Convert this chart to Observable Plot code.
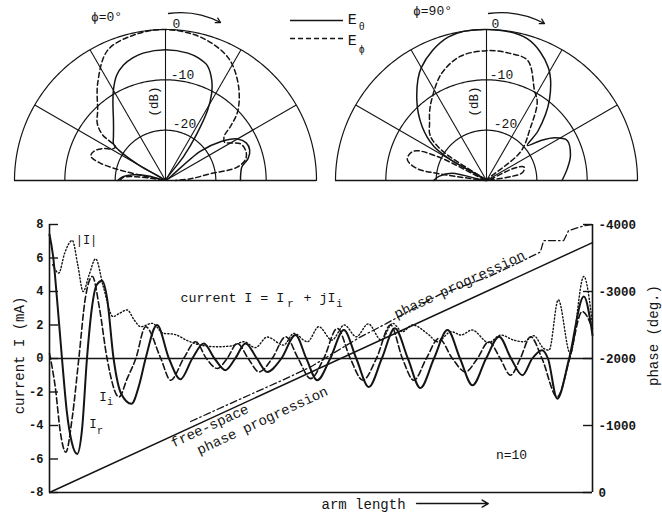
<!DOCTYPE html>
<html><head><meta charset="utf-8">
<script src="https://cdn.jsdelivr.net/npm/d3@7"></script>
<script src="https://cdn.jsdelivr.net/npm/@observablehq/plot@0.6"></script>
<style>
body{margin:0;background:#fff;}
#fig{position:relative;width:662px;height:512px;overflow:hidden;background:#fff;}
#fig > div{position:absolute;}
</style></head><body>
<div id="fig"><div id="p0" style="left:0;top:0"></div><div id="p90" style="left:331px;top:0"></div><div id="main" style="left:0;top:190px"></div></div>
<script>
// ---------- polar patterns: [angle from zenith (deg), level (dB)] ----------
const dbMin = -30;
const ringLevels = [-20, -10, 0];
const spokeAngles = [-60, -30, 0, 30, 60];

const phi0_Etheta = [[-90,-20.5],[-85,-21.5],[-80,-23.5],[-75,-26.5],[-66,-30],[-60,-24],[-57,-19],[-55,-17.4],[-50,-16.5],[-45,-15.4],[-40,-13.9],[-35,-11.8],[-30,-9.3],[-25,-7.0],[-20,-5.6],[-15,-4.8],[-10,-4.3],[0,-4],[10,-4.3],[15,-4.8],[20,-5.7],[25,-8.2],[28,-10.5],[31,-13.8],[34,-19],[37,-24],[42,-30],[50,-21],[55,-16.5],[60,-13.5],[65,-12.3],[70,-12.2],[75,-13],[80,-14.6],[85,-15],[90,-15.1]];
const phi0_Ephi = [[-90,-21],[-86,-21.5],[-82,-25],[-79,-30],[-77.5,-22],[-75,-16.5],[-72,-14.4],[-68,-14.6],[-63,-16],[-59,-17.8],[-56,-18],[-54,-14.5],[-50,-12.3],[-44,-10.6],[-35,-6.5],[-24,-1.7],[-12,-0.4],[0,0],[14,-0.7],[27,-2.6],[37,-6],[46,-10],[50,-13],[53,-15.4],[57,-16],[64,-13.4],[70,-13],[75,-13.5],[79.5,-15.5],[81.5,-21],[86,-25],[90,-28]];
const phi90_Etheta = [[-90,-19.5],[-85,-20.5],[-78,-23],[-67,-30],[-60,-22],[-57,-17.5],[-50,-13.3],[-41,-8.9],[-30,-4.1],[-15,-0.5],[0,0],[16,-0.7],[28.6,-4.4],[38,-9.7],[46,-15.7],[49.3,-19.3],[53.5,-16.7],[58,-14],[63.6,-12.1],[73.4,-12.6],[81.8,-13.8],[90,-15]];
const phi90_Ephi = [[-85,-30],[-82,-21],[-80,-15.8],[-75,-13.7],[-68,-14.4],[-64,-19],[-59,-30],[-56.5,-20],[-53,-16.5],[-50,-15.2],[-45,-14],[-40,-12.4],[-34.5,-10.7],[-23,-7],[-12,-4.8],[0,-4.2],[10,-4.3],[19,-4.8],[28,-9.7],[33,-11.5],[40,-16.5],[50,-21.2],[58,-30],[66,-24],[70,-22.1],[75,-22.3],[79,-23.1],[84,-30]];

// ---------- current distribution along the arm (arm length 0..100, mA) ----------
const Ir = [[0,7.4],[0.7,6.0],[1.4,3.5],[2.3,0],[3.2,-3.2],[4.1,-5.0],[5.1,-5.7],[6.0,-4.2],[6.9,0],[7.8,3.0],[8.7,4.4],[9.7,4.64],[10.6,3.6],[11.8,0],[13.2,-2.1],[15.1,-2.7],[16.5,-1.6],[17.7,0],[19.8,2.0],[22.0,0],[24.1,-1.24],[26.3,0],[28.4,0.9],[30.4,0],[32.4,-0.7],[34.2,0],[36.1,0.9],[38.2,0],[40.1,-0.8],[42.7,0],[45.3,1.4],[47.3,0],[49.3,-1.3],[51.7,0],[54.2,1.7],[56.5,0],[58.8,-1.7],[61.2,0],[63.6,1.8],[66.0,0],[68.3,-1.76],[70.8,0],[73.3,1.7],[75.6,0],[77.9,-1.6],[80.4,0],[82.8,1.3],[85.0,0],[87.1,-1.0],[88.9,0],[90.7,0.5],[91.8,0],[93.5,-2.4],[95.7,0],[98.4,3.7],[100,1.4]];
const Ii = [[0,0.3],[1.1,-1.8],[2.0,-4.4],[3.0,-5.6],[4.2,-3.5],[5.4,0],[6.6,3.6],[7.9,4.9],[9.2,3.0],[10.6,0],[12.8,-2.3],[14.3,-1.2],[15.9,0],[17.7,1.9],[20.5,0],[22.3,-1.3],[24.7,0],[26.9,1.0],[28.9,0],[30.9,-0.6],[32.7,0],[34.6,0.9],[36.6,0],[38.6,-0.8],[41.0,0],[43.5,1.3],[45.8,0],[48.1,-1.2],[50.5,0],[53.0,1.8],[55.4,0],[57.7,-1.3],[60.2,0],[62.8,2.0],[65.0,0],[67.1,-1.3],[69.4,0],[71.7,1.2],[74.2,0],[76.6,-0.8],[78.8,0],[80.9,1.0],[83.0,0],[84.9,-1.0],[86.7,0],[88.6,1.3],[90.7,0],[93.5,-2.3],[95.8,0],[98.1,2.8],[100,1.8]];
const absI = [[0.6,5.6],[1.7,5.1],[2.8,6.3],[4.2,7.05],[5.2,5.6],[6.2,4.0],[7.3,5.0],[8.5,5.95],[9.9,4.3],[11.7,2.5],[12.9,2.7],[14.3,2.9],[15.6,2.3],[16.8,1.9],[18.9,2.1],[21.0,1.5],[22.9,1.45],[25.5,1.05],[27.8,0.8],[30.9,0.7],[33.5,0.75],[35.8,1.0],[37.9,0.65],[40.1,1.28],[43.1,0.8],[45.0,1.5],[47.5,1.0],[49.6,1.9],[52.0,1.1],[54.3,2.0],[56.5,1.3],[58.7,2.07],[61.1,1.1],[63.2,2.1],[65.0,1.6],[66.8,2.0],[69.9,1.4],[71.4,1.0],[74.0,1.6],[75.8,1.4],[77.8,1.7],[80.9,0.95],[83.1,1.4],[85.5,1.1],[87.3,1.0],[89.2,1.36],[91.0,0.6],[92.0,0.5],[93.7,3.5],[95.9,0.3],[98.4,4.9],[100,2.0]];
// phase (deg.)
const phaseMeasured = [[26,-1060],[35,-1390],[43,-1680],[48,-1870],[57,-2310],[62,-2520],[66,-2700],[72,-2960],[80.6,-3210],[86.7,-3440],[90.4,-3590],[91.0,-3760],[94.7,-3760],[95.6,-3910],[98.4,-3980],[100,-4000]];
const phaseFreeSpace = [[0,0],[100,-3730]];

const currentTicks = [8,6,4,2,0,-2,-4,-6,-8];
const phaseTicks = [0,-1000,-2000,-3000,-4000];

// ---------- helpers ----------
const FONT = '"Liberation Mono", "DejaVu Sans Mono", monospace';
const INK = "#141414";
function toXY([t, db]) { const r = Math.max(0, db - dbMin); const a = t * Math.PI / 180; return [r * Math.sin(a), r * Math.cos(a)]; }
const phaseToY = p => -8 + (-p) / 250;

function polarPlot({eTheta, ePhi, marginLeft, marginRight, labels, legend}) {
  const ring = ringLevels.flatMap(db => d3.range(-90, 90.5, 1).map(t => [...toXY([t, db]), db]));
  const marks = [
    Plot.ruleY([0], {stroke: INK, strokeWidth: 1.3}),
    Plot.line(ring, {x: d => d[0], y: d => d[1], z: d => d[2], stroke: INK, strokeWidth: 1.2}),
    Plot.link(spokeAngles, {x1: 0, y1: 0, x2: t => toXY([t, 0])[0], y2: t => toXY([t, 0])[1], stroke: INK, strokeWidth: 1.1}),
    Plot.line(eTheta.map(toXY), {x: d => d[0], y: d => d[1], curve: "catmull-rom", stroke: INK, strokeWidth: 1.5}),
    Plot.line(ePhi.map(toXY), {x: d => d[0], y: d => d[1], curve: "catmull-rom", stroke: INK, strokeWidth: 1.5, strokeDasharray: "5,3"}),
    Plot.text([labels.phi], {x: labels.phiX, y: labels.phiY, fontSize: 13, text: d => d}),
    Plot.text(["0"], {x: labels.zeroX, y: 31.2, fontSize: 13}),
    Plot.text(["-10"], {x: labels.tenX, y: 21.06, fontSize: 13}),
    Plot.text(["-20"], {x: 3.78, y: 11.33, fontSize: 13}),
    Plot.text(["(dB)"], {x: labels.dbX, y: 15.7, rotate: -90, fontSize: 12.5}),
    Plot.arrow([0], {x1: labels.arrow[0], y1: labels.arrow[1], x2: labels.arrow[2], y2: labels.arrow[3], bend: 18, headLength: 6, stroke: INK, strokeWidth: 1.3})
  ];
  if (legend) {
    marks.push(
      Plot.ruleY([31.8], {x1: 24.84, x2: 35.37, stroke: INK, strokeWidth: 1.4}),
      Plot.ruleY([28.2], {x1: 24.84, x2: 35.37, stroke: INK, strokeWidth: 1.4, strokeDasharray: "5,3"}),
      Plot.text(["E", "E"], {x: 36.2, y: [32.0, 27.8], textAnchor: "start", fontSize: 15}),
      Plot.text(["θ", "ϕ"], {x: 38.4, y: [30.5, 25.9], textAnchor: "start", fontSize: 10})
    );
  }
  return Plot.plot({
    width: 331, height: 190, marginLeft, marginRight, marginTop: 29, marginBottom: 10,
    x: {domain: [-30, 30], axis: null}, y: {domain: [0, 30], axis: null},
    style: {overflow: "visible", fontFamily: FONT, color: INK, background: "transparent"},
    marks
  });
}

document.getElementById("p0").append(polarPlot({
  eTheta: phi0_Etheta, ePhi: phi0_Ephi, marginLeft: 14, marginRight: 15, legend: true,
  labels: {phi: "ϕ=0°", phiX: -11.72, phiY: 32.58, zeroX: 2.19, tenX: 3.38, dbX: -2.38, arrow: [0.6, 33.18, 10.93, 31.39]}
}));
document.getElementById("p90").append(polarPlot({
  eTheta: phi90_Etheta, ePhi: phi90_Ephi, marginLeft: 4, marginRight: 25, legend: false,
  labels: {phi: "ϕ=90°", phiX: -10.73, phiY: 33.78, zeroX: 1.79, tenX: 2.98, dbX: -2.58, arrow: [0.4, 33.18, 11.52, 31.19]}
}));

const innerW = 662 - 49 - 70;
document.getElementById("main").append(Plot.plot({
  width: 662, height: 322, marginTop: 34, marginBottom: 20, marginLeft: 49, marginRight: 70,
  x: {domain: [0, 100], axis: null}, y: {domain: [-8, 8]},
  style: {overflow: "visible", fontFamily: FONT, color: INK, background: "transparent"},
  marks: [
    Plot.ruleY([0], {stroke: INK, strokeWidth: 1.4}),
    Plot.ruleY([-8], {stroke: INK, strokeWidth: 1.6}),
    Plot.ruleX([0, 100], {stroke: INK, strokeWidth: 1.6}),
    Plot.tickY(currentTicks, {y: d => d, insetRight: innerW - 9, stroke: INK, strokeWidth: 1.4}),
    Plot.tickY(phaseTicks.map(phaseToY), {y: d => d, insetLeft: innerW - 9, stroke: INK, strokeWidth: 1.4}),
    Plot.axisY(currentTicks, {anchor: "left", tickSize: 0, tickPadding: 6, tickFormat: d => String(d), fontSize: 12, fontWeight: "bold"}),
    Plot.axisY(phaseTicks.map(phaseToY), {anchor: "right", tickSize: 0, tickPadding: 6, tickFormat: d => String(-Math.round((d + 8) * 250)), fontSize: 12.5, fontWeight: "bold"}),
    Plot.line(phaseFreeSpace, {x: d => d[0], y: d => phaseToY(d[1]), stroke: INK, strokeWidth: 1.5}),
    Plot.line(phaseMeasured, {x: d => d[0], y: d => phaseToY(d[1]), stroke: INK, strokeWidth: 1.3, strokeDasharray: "7,3,1.5,3"}),
    Plot.line(absI, {x: d => d[0], y: d => d[1], curve: "monotone-x", stroke: INK, strokeWidth: 1.4, strokeDasharray: "1.2,2.2"}),
    Plot.line(Ii, {x: d => d[0], y: d => d[1], curve: "monotone-x", stroke: INK, strokeWidth: 1.6, strokeDasharray: "6,3"}),
    Plot.line(Ir, {x: d => d[0], y: d => d[1], curve: "monotone-x", stroke: INK, strokeWidth: 2}),
    Plot.text(["|I|"], {x: 6.81, y: 7.04, fontSize: 12}),
    Plot.text(["I"], {x: 9.85, y: -2.27, fontSize: 12.5}),
    Plot.text(["i"], {x: 11.14, y: -2.6, fontSize: 10}),
    Plot.text(["I"], {x: 8.01, y: -3.94, fontSize: 12.5}),
    Plot.text(["r"], {x: 9.30, y: -4.3, fontSize: 10}),
    Plot.text(["current I = I"], {x: 24.13, y: 3.6, textAnchor: "start", fontSize: 13.3}),
    Plot.text(["+ jI"], {x: 46.78, y: 3.6, textAnchor: "start", fontSize: 13.3}),
    Plot.text(["r", "i"], {x: [44.38, 53.4], y: 3.3, fontSize: 10.5}),
    Plot.text(["phase progression"], {x: 75.5, y: 4.42, rotate: -25, fontSize: 14}),
    Plot.text(["free-space"], {x: 29.5, y: -4.02, rotate: -25, fontSize: 14}),
    Plot.text(["phase progression"], {x: 39.2, y: -3.7, rotate: -25, fontSize: 14}),
    Plot.text(["n=10"], {x: 85.08, y: -5.73, fontSize: 13}),
    Plot.text(["arm length"], {x: 57.83, y: -8.72, fontSize: 14}),
    Plot.arrow([0], {x1: 67.6, y1: -8.66, x2: 80.8, y2: -8.66, headLength: 7, stroke: INK, strokeWidth: 1.5}),
    Plot.text(["current I (mA)"], {x: -5.52, y: 0.18, rotate: -90, fontSize: 14}),
    Plot.text(["phase (deg.)"], {x: 111.3, y: 1.37, rotate: -90, fontSize: 14})
  ]
}));
</script></body></html>
